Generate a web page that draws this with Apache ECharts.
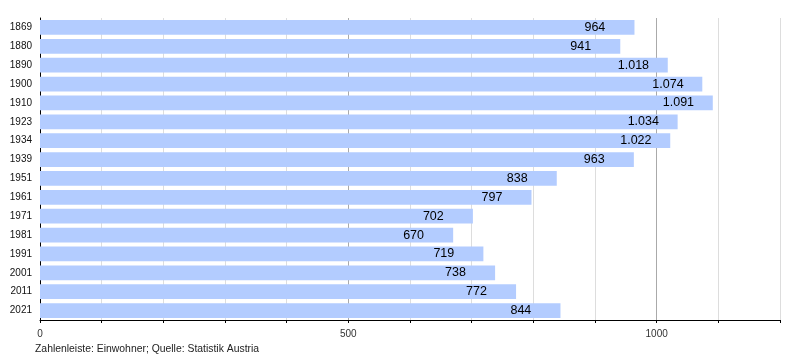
<!DOCTYPE html>
<html><head><meta charset="utf-8">
<script src="https://cdn.jsdelivr.net/npm/echarts@6/dist/echarts.min.js"></script>
<style>html,body{margin:0;padding:0;background:#fff}#c{width:800px;height:360px}</style>
</head><body><div id="c"></div>
<script>
const years = ['1869','1880','1890','1900','1910','1923','1934','1939','1951','1961','1971','1981','1991','2001','2011','2021'];
const population = [964,941,1018,1074,1091,1034,1022,963,838,797,702,670,719,738,772,844];
const xTickLabels = [0,500,1000];
const footer = 'Zahlenleiste: Einwohner; Quelle: Statistik Austria';

const fmt = v => v >= 1000 ? Math.floor(v/1000) + '.' + String(v%1000).padStart(3,'0') : String(v);
const font = "'Liberation Sans', Arial, sans-serif";
const chart = echarts.init(document.getElementById('c'), null, {renderer:'canvas'});
chart.setOption({
  animation:false,
  grid:{left:40, right:20, top:18, bottom:40, containLabel:false},
  graphic:[{type:'text', left:35, top:344, style:{text:footer, font:"10.4px "+font, fill:'#222'}}],
  xAxis:{type:'value', min:0, max:1200, interval:100,
    axisLine:{show:true, lineStyle:{color:'#000', width:1}},
    axisTick:{show:true, length:3, lineStyle:{color:'#000'}},
    axisLabel:{margin:9, color:'#333', fontSize:10, fontFamily:font,
      formatter: v => xTickLabels.includes(v) ? String(v) : ''},
    splitLine:{show:true, lineStyle:{color:['#aaa','#ddd','#ddd','#ddd','#ddd'], width:1}}
  },
  yAxis:{type:'category', data:years, inverse:true,
    axisLine:{show:true, lineStyle:{color:'#000', width:1}},
    axisTick:{show:false},
    axisLabel:{margin:8, color:'#111', fontSize:10, fontFamily:font},
    splitLine:{show:false}
  },
  series:[{type:'bar', data:population, barCategoryGap:'22%',
    itemStyle:{color:'#b3ccff'},
    label:{show:true, position:['100%','50%'], offset:[-50,0], align:'left', verticalAlign:'middle',
      color:'#000', fontSize:12.5, fontFamily:font,
      formatter: p => fmt(p.value)}
  }]
});
</script></body></html>
